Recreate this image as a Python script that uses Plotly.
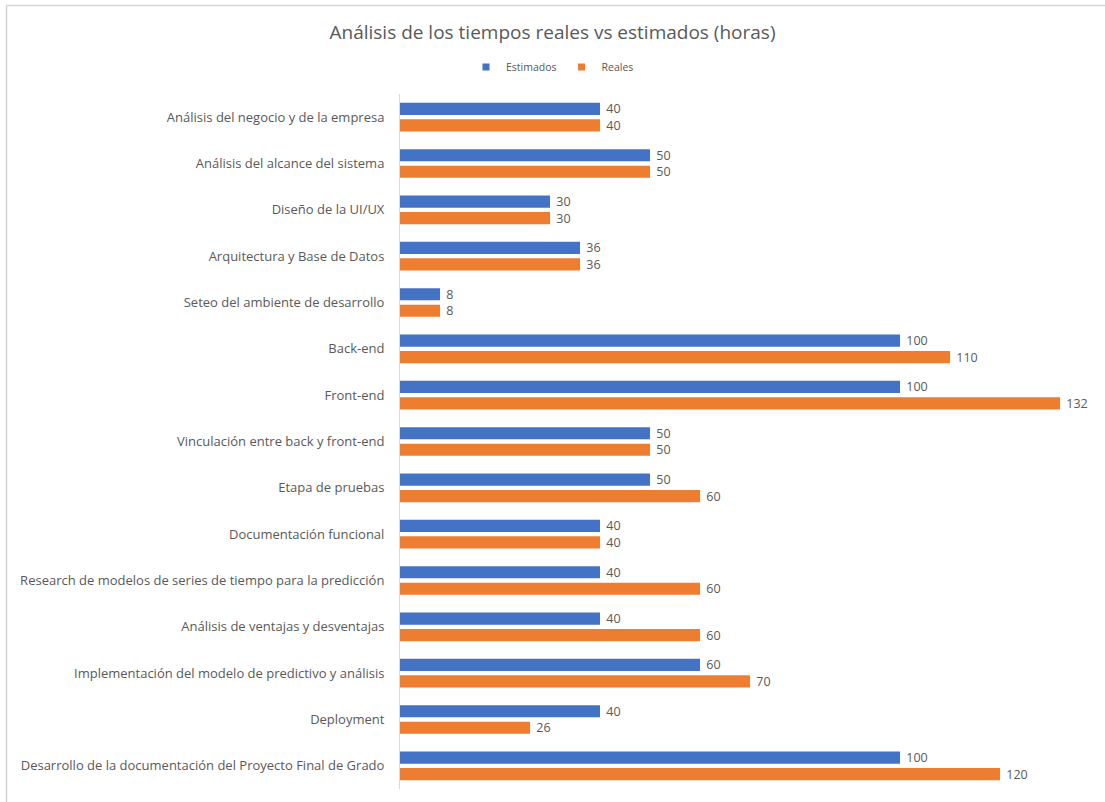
import plotly.graph_objects as go

# Tareas del proyecto, de arriba hacia abajo
categorias = [
    "Análisis del negocio y de la empresa",
    "Análisis del alcance del sistema",
    "Diseño de la UI/UX",
    "Arquitectura y Base de Datos",
    "Seteo del ambiente de desarrollo",
    "Back-end",
    "Front-end",
    "Vinculación entre back y front-end",
    "Etapa de pruebas",
    "Documentación funcional",
    "Research de modelos de series de tiempo para la predicción",
    "Análisis de ventajas y desventajas",
    "Implementación del modelo de predictivo y análisis",
    "Deployment",
    "Desarrollo de la documentación del Proyecto Final de Grado",
]
estimados = [40, 50, 30, 36, 8, 100, 100, 50, 50, 40, 40, 40, 60, 40, 100]
reales = [40, 50, 30, 36, 8, 110, 132, 50, 60, 40, 60, 60, 70, 26, 120]

series = [("Estimados", estimados, "#4472C4"), ("Reales", reales, "#ED7D31")]

FONT = "Open Sans"
GRIS = "#595959"

fig = go.Figure()
for nombre, valores, color in series:
    fig.add_trace(go.Bar(
        y=categorias, x=valores, name=nombre, orientation="h",
        marker=dict(color=color, line=dict(width=0)),
        text=[f" {v}" for v in valores], textposition="outside",
        cliponaxis=False, constraintext="none",
        textfont=dict(family=FONT, size=12.5, color=GRIS),
        showlegend=False,
    ))
# Entradas de la leyenda con marcador cuadrado pequeño
for nombre, valores, color in series:
    fig.add_trace(go.Scatter(
        x=[None], y=[None], mode="markers", name=nombre,
        marker=dict(symbol="square", size=7, color=color),
        showlegend=True,
    ))

fig.update_layout(
    width=1105, height=802,
    margin=dict(l=400, r=5, t=94, b=13),
    paper_bgcolor="white", plot_bgcolor="white",
    barmode="group", bargap=0.29, bargroupgap=0.26,
    font=dict(family=FONT, color=GRIS, size=13),
    title=dict(
        text="Análisis de los tiempos reales vs estimados (horas)",
        x=0.5, xref="container", xanchor="center",
        y=1 - 32 / 802, yanchor="middle",
        font=dict(family=FONT, size=19, color=GRIS),
    ),
    legend=dict(
        orientation="h", x=0.5, xref="container", xanchor="center",
        y=1 - 67 / 802, yref="container", yanchor="middle",
        font=dict(family=FONT, size=10.5, color=GRIS),
        itemwidth=30, tracegroupgap=0,
    ),
    showlegend=True,
)
fig.update_xaxes(range=[0, 140], visible=False, showgrid=False, zeroline=False)
fig.update_yaxes(
    autorange="reversed", showline=True, linecolor="#d9d9d9", linewidth=1,
    showgrid=False, ticks="", ticklabelstandoff=12,
    tickfont=dict(family=FONT, size=13, color=GRIS),
)

# Marco del gráfico (bordes superior e izquierdo)
fig.add_shape(
    type="rect", xref="paper", yref="paper",
    x0=(6.5 - 400) / 700, x1=1.2, y0=-0.2, y1=(789 - 5.5) / 695,
    line=dict(color="#d4d4d4", width=1.5), fillcolor="rgba(0,0,0,0)",
    layer="below",
)

fig.write_html("out.html")
